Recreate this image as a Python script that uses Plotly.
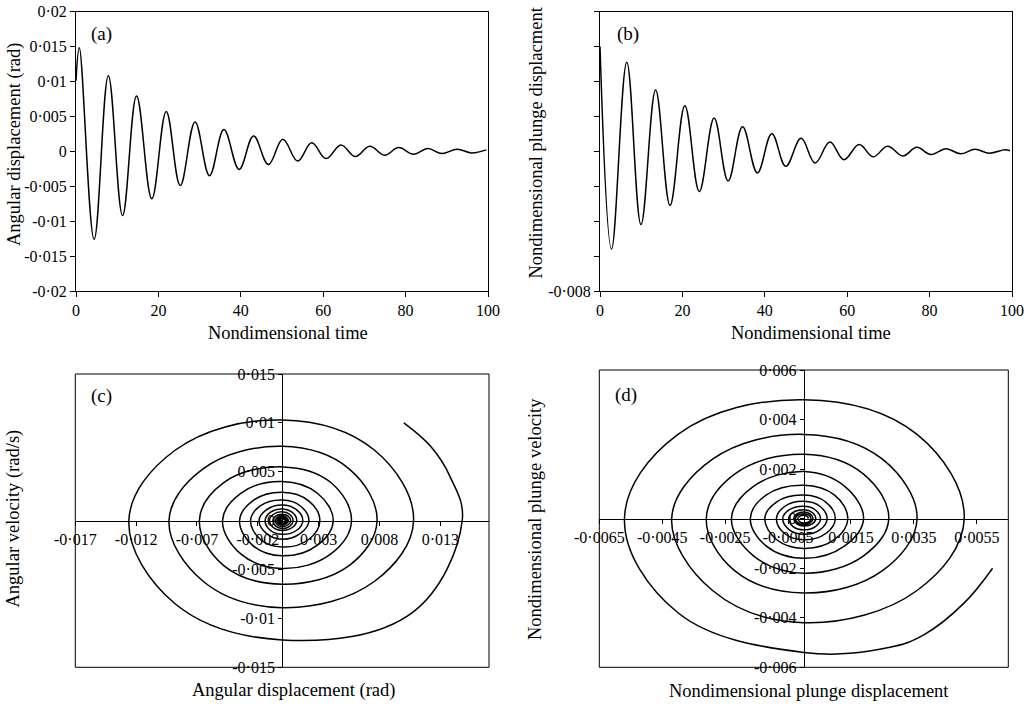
import plotly.graph_objects as go

# ---------------- data ----------------
# (a) angular displacement time history (extrema)
a_time = [0, 0.8, 4.4, 7.85, 11.3, 14.7, 18.4, 21.9, 25.3, 28.9, 32.4, 35.9, 39.6, 43.1,
          46.7, 50.2, 53.8, 57.2, 60.7, 64.3, 67.8, 71.3, 74.9, 78.3, 81.9, 85.4, 88.8,
          92.5, 96.0, 99.6]
a_angle = [0.0101, 0.0148, -0.0126, 0.0108, -0.0092, 0.0079, -0.0068, 0.0057, -0.0049,
           0.0042, -0.0035, 0.0031, -0.0026, 0.0022, -0.0019, 0.0017, -0.0014, 0.0012,
           -0.00105, 0.0009, -0.00076, 0.0007, -0.00057, 0.00052, -0.00043, 0.00038,
           -0.00033, 0.00029, -0.00024, 0.0002]

# (b) nondimensional plunge displacement time history
b_time = [0, 2.8, 6.5, 9.95, 13.5, 17.0, 20.6, 24.1, 27.7, 31.1, 34.6, 38.2, 41.7, 45.1,
          48.8, 52.2, 55.8, 59.2, 62.9, 66.3, 69.8, 73.5, 76.9, 80.3, 84.0, 87.5, 91.0,
          94.5, 98.3, 99.5]
b_plunge = [0.0060, -0.0056, 0.0051, -0.0042, 0.0035, -0.0031, 0.0026, -0.0023, 0.0019,
            -0.0017, 0.0014, -0.00124, 0.0010, -0.00086, 0.00074, -0.00067, 0.00053,
            -0.00048, 0.00038, -0.00032, 0.00029, -0.00027, 0.00023, -0.00019, 0.00015,
            -0.00015, 0.00011, -0.00011, 0.00008, 0.00003]

# (c) angular phase portrait: (angular displacement, angular velocity) read along the spiral
c_points = [
    (0.0100, 0.0100), (0.0122, 0.0076), (0.0138, 0.0045),
    (0.0148, 0), (0.0107, -0.0094), (0, -0.0122), (-0.0088, -0.0085),
    (-0.0126, 0), (-0.0088, 0.0072), (0, 0.0103), (0.0076, 0.0072),
    (0.0108, 0), (0.0076, -0.0062), (0, -0.0089), (-0.0065, -0.0062),
    (-0.0093, 0), (-0.0065, 0.0053), (0, 0.0076), (0.0055, 0.0053),
    (0.0078, 0), (0.0055, -0.0046), (0, -0.0065), (-0.0048, -0.0046),
    (-0.0068, 0), (-0.0048, 0.0039), (0, 0.0055), (0.0040, 0.0039),
    (0.0057, 0), (0.0040, -0.0034), (0, -0.0049), (-0.0034, -0.0034),
    (-0.0049, 0), (-0.0034, 0.0028), (0, 0.0040), (0.0029, 0.0028),
    (0.0042, 0), (0.0029, -0.0025), (0, -0.0036), (-0.00245, -0.0025),
    (-0.0035, 0), (-0.00245, 0.0020), (0, 0.0029), (0.0022, 0.0020),
    (0.0031, 0), (0.0022, -0.0019), (0, -0.0027), (-0.0018, -0.0019),
    (-0.0026, 0), (-0.0018, 0.0015), (0, 0.0021), (0.0015, 0.0015),
    (0.0022, 0), (0.0015, -0.0013), (0, -0.0019), (-0.0013, -0.0013),
    (-0.0019, 0), (-0.0013, 0.0011), (0, 0.0016), (0.0012, 0.0011),
    (0.0017, 0), (0.0012, -0.00098), (0, -0.0014), (-0.00098, -0.00098),
    (-0.0014, 0), (-0.00098, 0.00084), (0, 0.0012), (0.00084, 0.00084),
    (0.0012, 0), (0.00084, -0.0007), (0, -0.0010), (-0.00074, -0.0007),
    (-0.00105, 0), (-0.00074, 0.00063), (0, 0.0009), (0.00063, 0.00063),
    (0.0009, 0), (0.00063, -0.00056), (0, -0.0008), (-0.00053, -0.00056),
    (-0.00076, 0), (-0.00053, 0.00046), (0, 0.00065), (0.00049, 0.00046),
    (0.0007, 0), (0.00049, -0.00042), (0, -0.0006), (-0.0004, -0.00042),
    (-0.00057, 0), (-0.0004, 0.00035), (0, 0.0005), (0.00035, 0.00035),
    (0.0005, 0), (0.00035, -0.00032), (0, -0.00045), (-0.0003, -0.00032),
    (-0.00043, 0), (-0.0003, 0.00025), (0, 0.00036), (0.00028, 0.00025),
    (0.0004, 0), (0.00028, -0.00023), (0, -0.00033), (-0.00023, -0.00023),
    (-0.00033, 0), (-0.00023, 0.00019), (0, 0.00027), (0.00021, 0.00019),
    (0.0003, 0), (0.00021, -0.00018), (0, -0.00025), (-0.00017, -0.00018),
    (-0.00024, 0), (-0.00017, 0.00014), (0, 0.0002), (0.00014, 0.00014),
    (0.0002, 0),
]
c_disp = [p[0] for p in c_points]
c_vel = [p[1] for p in c_points]

# (d) plunge phase portrait: (plunge displacement, plunge velocity) read along the spiral
d_points = [
    (0.0060, -0.0020), (0.0051, -0.0034), (0.0038, -0.0047), (0.0027, -0.0052),
    (0, -0.0054), (-0.0040, -0.0038),
    (-0.0057, 0), (-0.0040, 0.0034), (0, 0.0048), (0.0036, 0.0034),
    (0.0051, 0), (0.0036, -0.0029), (0, -0.0042), (-0.0029, -0.0029),
    (-0.0042, 0), (-0.0029, 0.0024), (0, 0.0034), (0.0025, 0.0024),
    (0.0036, 0), (0.0025, -0.0021), (0, -0.0030), (-0.0022, -0.0021),
    (-0.0031, 0), (-0.0022, 0.0018), (0, 0.0026), (0.0019, 0.0018),
    (0.0027, 0), (0.0019, -0.0015), (0, -0.0022), (-0.0016, -0.0015),
    (-0.0023, 0), (-0.0016, 0.0013), (0, 0.0019), (0.0013, 0.0013),
    (0.0019, 0), (0.0013, -0.0011), (0, -0.0016), (-0.0012, -0.0011),
    (-0.0017, 0), (-0.0012, 0.00095), (0, 0.00135), (0.00098, 0.00095),
    (0.0014, 0), (0.00098, -0.00084), (0, -0.0012), (-0.00087, -0.00084),
    (-0.00124, 0), (-0.00087, 0.00067), (0, 0.00095), (0.0007, 0.00067),
    (0.0010, 0), (0.0007, -0.0006), (0, -0.00085), (-0.00061, -0.0006),
    (-0.00087, 0), (-0.00061, 0.00049), (0, 0.0007), (0.00052, 0.00049),
    (0.00074, 0), (0.00052, -0.00044), (0, -0.00063), (-0.00047, -0.00044),
    (-0.00067, 0), (-0.00047, 0.00035), (0, 0.0005), (0.00037, 0.00035),
    (0.00053, 0), (0.00037, -0.00032), (0, -0.00045), (-0.00034, -0.00032),
    (-0.00048, 0), (-0.00034, 0.00025), (0, 0.00036), (0.00027, 0.00025),
    (0.00038, 0), (0.00027, -0.00021), (0, -0.0003), (-0.00022, -0.00021),
    (-0.00032, 0), (-0.00022, 0.00019), (0, 0.00027), (0.0002, 0.00019),
    (0.00029, 0), (0.0002, -0.00017), (0, -0.00024), (-0.00019, -0.00017),
    (-0.00027, 0), (-0.00019, 0.00014), (0, 0.0002), (0.00016, 0.00014),
    (0.00023, 0), (0.00016, -0.00013), (0, -0.00018), (-0.00013, -0.00013),
    (-0.00019, 0), (-0.00013, 0.0001), (0, 0.00014), (0.0001, 0.0001),
    (0.00015, 0),
]
d_disp = [p[0] for p in d_points]
d_vel = [p[1] for p in d_points]

# tick values / labels
a_xticks = [0, 20, 40, 60, 80, 100]
a_xlabels = ["0", "20", "40", "60", "80", "100"]
a_yticks = [-0.02, -0.015, -0.01, -0.005, 0, 0.005, 0.01, 0.015, 0.02]
a_ylabels = ["-0·02", "-0·015", "-0·01", "-0·005", "0", "0·005", "0·01", "0·015", "0·02"]
b_yticks = [-0.008, -0.006, -0.004, -0.002, 0, 0.002, 0.004, 0.006, 0.008]
b_ylabels = ["-0·008", "", "", "", "", "", "", "", ""]
c_xticks = [-0.017, -0.012, -0.007, -0.002, 0.003, 0.008, 0.013]
c_xlabels = ["-0·017", "-0·012", "-0·007", "-0·002", "0·003", "0·008", "0·013"]
c_yticks = [-0.015, -0.01, -0.005, 0, 0.005, 0.01, 0.015]
c_ylabels = ["-0·015", "-0·01", "-0·005", "0", "0·005", "0·01", "0·015"]
d_xticks = [-0.0065, -0.0045, -0.0025, -0.0005, 0.0015, 0.0035, 0.0055]
d_xlabels = ["-0·0065", "-0·0045", "-0·0025", "-0·0005", "0·0015", "0·0035", "0·0055"]
d_yticks = [-0.006, -0.004, -0.002, 0, 0.002, 0.004, 0.006]
d_ylabels = ["-0·006", "-0·004", "-0·002", "0", "0·002", "0·004", "0·006"]

# ---------------- figure ----------------
W, H = 1034, 709
FONT = "Liberation Serif"
TICKFONT = dict(family=FONT, size=16, color="black")


def px_x(v):
    return v / W


def px_y(v):
    return 1 - v / H


dom = {
    "a": ([px_x(76), px_x(488)], [px_y(291), px_y(11.5)]),
    "b": ([px_x(600), px_x(1012)], [px_y(291), px_y(11.5)]),
    "c": ([px_x(75.3), px_x(489)], [px_y(667.3), px_y(374)]),
    "d": ([px_x(599.3), px_x(1008.3)], [px_y(667.3), px_y(370)]),
}

line = dict(color="black", width=1.5, shape="spline", smoothing=1.1)

fig = go.Figure()
fig.add_trace(go.Scatter(x=a_time, y=a_angle, mode="lines", line=line, xaxis="x", yaxis="y"))
fig.add_trace(go.Scatter(x=b_time, y=b_plunge, mode="lines", line=line, xaxis="x2", yaxis="y2"))
fig.add_trace(go.Scatter(x=c_disp, y=c_vel, mode="lines", line=line, xaxis="x3", yaxis="y3"))
fig.add_trace(go.Scatter(x=d_disp, y=d_vel, mode="lines", line=line, xaxis="x4", yaxis="y4"))

common = dict(showgrid=False, zeroline=False, showline=True, linecolor="black", linewidth=1,
              ticks="outside", tickcolor="black", tickwidth=1, tickfont=TICKFONT,
              tickmode="array", automargin=False)

lay = dict(
    width=W, height=H, margin=dict(l=0, r=0, t=0, b=0, autoexpand=False),
    paper_bgcolor="white", plot_bgcolor="white", showlegend=False,
    font=dict(family=FONT, color="black"),
    xaxis=dict(domain=dom["a"][0], anchor="y", range=[0, 100], tickvals=a_xticks,
               ticktext=a_xlabels, mirror=True, ticklen=5, **common),
    yaxis=dict(domain=dom["a"][1], anchor="x", range=[-0.02, 0.02], tickvals=a_yticks,
               ticktext=a_ylabels, mirror=True, ticklen=5, **common),
    xaxis2=dict(domain=dom["b"][0], anchor="y2", range=[0, 100], tickvals=a_xticks,
                ticktext=a_xlabels, mirror=True, ticklen=5, **common),
    yaxis2=dict(domain=dom["b"][1], anchor="x2", range=[-0.008, 0.008], tickvals=b_yticks,
                ticktext=b_ylabels, mirror=True, ticklen=5, **common),
    xaxis3=dict(domain=dom["c"][0], anchor="free",
                position=(dom["c"][1][0] + dom["c"][1][1]) / 2,
                range=[-0.017, 0.017], tickvals=c_xticks, ticktext=c_xlabels,
                ticklen=4, **common),
    yaxis3=dict(domain=dom["c"][1], anchor="free",
                position=(dom["c"][0][0] + dom["c"][0][1]) / 2,
                range=[-0.015, 0.015], tickvals=c_yticks, ticktext=c_ylabels,
                ticklen=4, **common),
    xaxis4=dict(domain=dom["d"][0], anchor="free",
                position=(dom["d"][1][0] + dom["d"][1][1]) / 2,
                range=[-0.0065, 0.0065], tickvals=d_xticks, ticktext=d_xlabels,
                ticklen=4, **common),
    yaxis4=dict(domain=dom["d"][1], anchor="free",
                position=(dom["d"][0][0] + dom["d"][0][1]) / 2,
                range=[-0.006, 0.006], tickvals=d_yticks, ticktext=d_ylabels,
                ticklen=4, **common),
)
fig.update_layout(**lay)

# frames of the phase-plane panels
for ax in ("x3", "x4"):
    yy = "y" + ax[1:]
    fig.add_shape(type="rect", xref=ax + " domain", yref=yy + " domain", x0=0, x1=1, y0=0, y1=1,
                  line=dict(color="black", width=1), layer="above")

TITLE = dict(family=FONT, size=18.5, color="black")
LABEL = dict(family=FONT, size=19, color="black")


def note(text, x, y, font, angle=0):
    fig.add_annotation(text=text, x=px_x(x), y=px_y(y), xref="paper", yref="paper",
                       showarrow=False, xanchor="center", yanchor="middle",
                       textangle=angle, font=font)


note("Nondimensional time", 288, 333, TITLE)
note("Nondimensional time", 811, 333, TITLE)
note("Angular displacement (rad)", 293.5, 690.5, TITLE)
note("Nondimensional plunge displacement", 809, 690.5, TITLE)
note("Angular displacement (rad)", 14, 145, TITLE, -90)
note("Nondimensional plunge displacment", 535, 142.5, TITLE, -90)
note("Angular velocity (rad/s)", 12.5, 519, TITLE, -90)
note("Nondimensional plunge velocity", 535, 519, TITLE, -90)
note("(a)", 101.5, 34, LABEL)
note("(b)", 627.5, 34, LABEL)
note("(c)", 101.5, 395.5, LABEL)
note("(d)", 626, 395, LABEL)

# remove the page's default body margin so the figure sits at the window's corner
fig.write_html("out.html",
               config={"displayModeBar": False, "staticPlot": True},
               post_script="document.body.style.margin='0px';document.body.style.overflow='hidden';")
